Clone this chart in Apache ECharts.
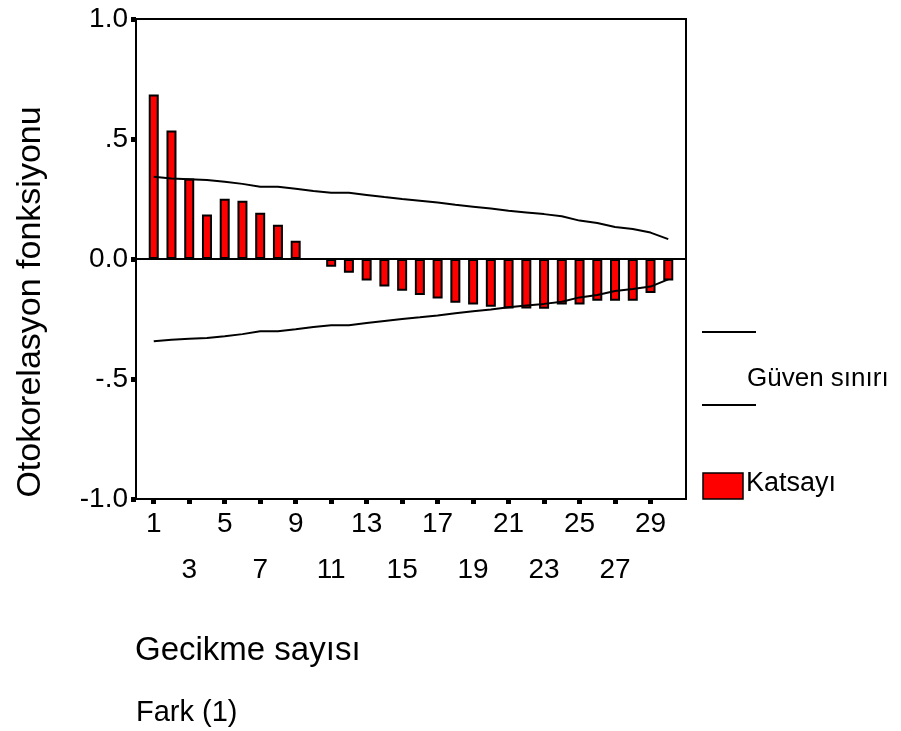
<!DOCTYPE html>
<html>
<head>
<meta charset="utf-8">
<script src="https://cdn.jsdelivr.net/npm/echarts@6/dist/echarts.min.js"></script>
<style>
  html, body { margin: 0; padding: 0; background: #fff; }
  #chart { width: 901px; height: 731px; }
</style>
</head>
<body>
<div id="chart"></div>
<script>
// lags 0..31 on the axis, data only at 1..30
const lags = Array.from({ length: 32 }, (_, i) => String(i));

// autocorrelation coefficients, lag 1..30
const katsayi = [0.685, 0.535, 0.335, 0.185, 0.251, 0.243, 0.193, 0.143, 0.076, 0.0,
  -0.032, -0.057, -0.090, -0.115, -0.132, -0.150, -0.165, -0.182, -0.190, -0.199,
  -0.206, -0.206, -0.207, -0.190, -0.190, -0.174, -0.174, -0.174, -0.142, -0.090];

// confidence limits, lag 1..30
const upperLimit = [0.343, 0.335, 0.332, 0.329, 0.322, 0.313, 0.301, 0.301, 0.293, 0.283,
  0.276, 0.276, 0.267, 0.258, 0.250, 0.243, 0.235, 0.226, 0.218, 0.210,
  0.201, 0.194, 0.187, 0.178, 0.160, 0.150, 0.133, 0.125, 0.110, 0.083];
const lowerLimit = [-0.343, -0.336, -0.332, -0.329, -0.322, -0.313, -0.301, -0.301, -0.293, -0.283,
  -0.276, -0.276, -0.267, -0.258, -0.250, -0.243, -0.235, -0.226, -0.218, -0.210,
  -0.201, -0.194, -0.187, -0.178, -0.160, -0.150, -0.133, -0.125, -0.115, -0.085];

const yTickLabels = { "1": "1.0", "0.5": ".5", "0": "0.0", "-0.5": "-.5", "-1": "-1.0" };

const FONT = "'Liberation Sans', Arial, sans-serif";

// pad with null at lag 0 and lag 31
const pad = (arr) => [null].concat(arr, [null]);

const chart = echarts.init(document.getElementById("chart"));

const option = {
  animation: false,
  grid: {
    left: 136,
    top: 19,
    width: 550,
    height: 480,
    show: true,
    borderColor: "#000",
    borderWidth: 2,
    backgroundColor: "#fff",
  },
  xAxis: {
    type: "category",
    data: lags,
    boundaryGap: false,
    position: "bottom",
    axisLine: { onZero: false, lineStyle: { color: "#000", width: 2 } },
    axisTick: {
      interval: (i) => i % 2 === 1 && i <= 29,
      length: 5,
      lineStyle: { color: "#000", width: 5 },
    },
    axisLabel: {
      interval: (i) => i % 2 === 1 && i <= 29,
      formatter: (val, i) => ((i - 1) % 4 === 0 ? val : "\n" + val),
      fontFamily: FONT,
      fontSize: 28,
      color: "#000",
      lineHeight: 46,
      margin: 2,
      verticalAlign: "top",
    },
    splitLine: { show: false },
  },
  yAxis: {
    type: "value",
    min: -1,
    max: 1,
    interval: 0.5,
    axisLine: { show: true, lineStyle: { color: "#000", width: 2 } },
    axisTick: { show: true, length: 5, lineStyle: { color: "#000", width: 5 } },
    axisLabel: {
      formatter: (v) => yTickLabels[String(v)],
      fontFamily: FONT,
      fontSize: 28,
      color: "#000",
      margin: 8,
    },
    splitLine: { show: false },
  },
  graphic: [
    // y axis title, sits lower than the axis middle in the original
    {
      type: "text",
      x: 31,
      y: 302,
      rotation: Math.PI / 2,
      style: {
        text: "Otokorelasyon fonksiyonu",
        font: "34px " + FONT,
        fill: "#000",
        align: "center",
        verticalAlign: "middle",
      },
    },
    // legend: confidence limits
    { type: "line", shape: { x1: 702, y1: 332, x2: 756, y2: 332 }, style: { stroke: "#000", lineWidth: 2 } },
    { type: "line", shape: { x1: 702, y1: 405, x2: 756, y2: 405 }, style: { stroke: "#000", lineWidth: 2 } },
    { type: "text", left: 747, top: 366, style: { text: "Güven sınırı", font: "26px " + FONT, fill: "#000" } },
    // legend: coefficients
    { type: "rect", shape: { x: 703, y: 473, width: 40, height: 26 }, style: { fill: "#ff0000", stroke: "#000", lineWidth: 1.5 } },
    { type: "text", left: 746, top: 470, style: { text: "Katsayı", font: "27px " + FONT, fill: "#000" } },
    // axis title and note
    { type: "text", left: 135, top: 634, style: { text: "Gecikme sayısı", font: "33px " + FONT, fill: "#000" } },
    { type: "text", left: 136, top: 698, style: { text: "Fark (1)", font: "29px " + FONT, fill: "#000" } },
  ],
  series: [
    {
      name: "Katsayı",
      type: "bar",
      data: pad(katsayi),
      barWidth: 10,
      itemStyle: { color: "#ff0000", borderColor: "#000", borderWidth: 2 },
      markLine: {
        silent: true,
        symbol: "none",
        label: { show: false },
        lineStyle: { color: "#000", width: 2, type: "solid" },
        data: [{ yAxis: 0 }],
      },
      z: 2,
    },
    {
      name: "Güven sınırı",
      type: "line",
      data: pad(upperLimit),
      showSymbol: false,
      lineStyle: { color: "#000", width: 2 },
      z: 3,
    },
    {
      name: "Güven sınırı alt",
      type: "line",
      data: pad(lowerLimit),
      showSymbol: false,
      lineStyle: { color: "#000", width: 2 },
      z: 3,
    },
  ],
};

chart.setOption(option);
</script>
</body>
</html>
